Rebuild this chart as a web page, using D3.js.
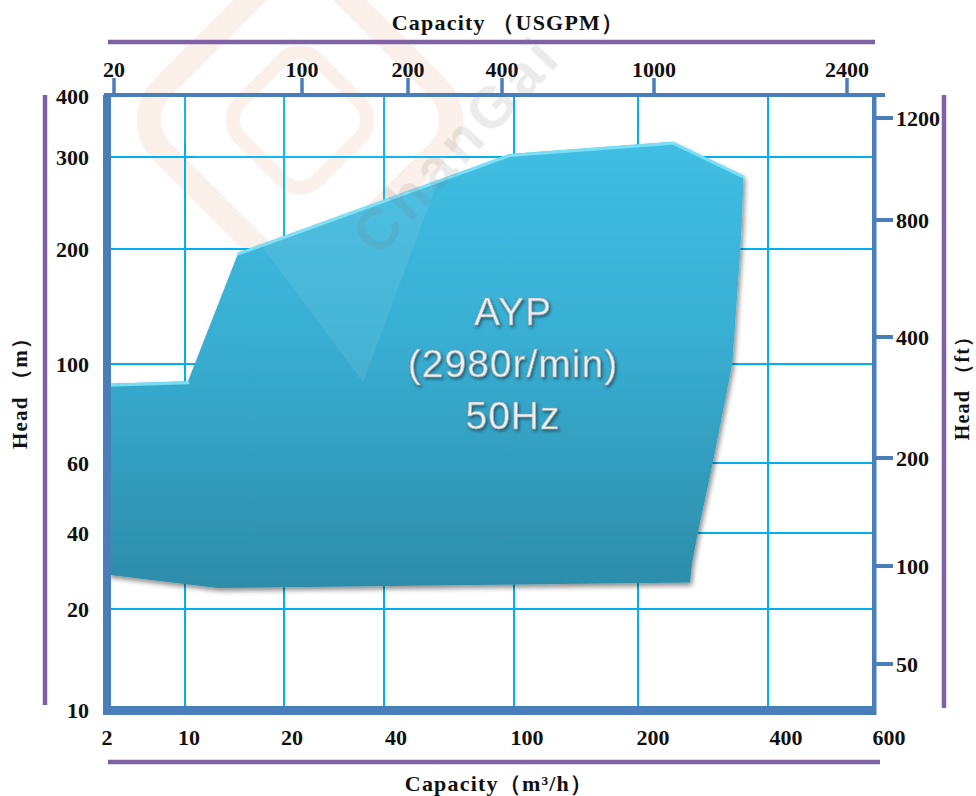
<!DOCTYPE html>
<html><head><meta charset="utf-8">
<script src="https://cdn.jsdelivr.net/npm/d3@7"></script>
<style>body{margin:0;background:#fff}svg{display:block}</style>
</head><body><svg id="c" width="976" height="796"></svg>
<script>
// ---- data ----
const bottomTicks = [2, 10, 20, 40, 100, 200, 400, 600];      // Capacity m3/h
const gridXValues = [10, 20, 40, 100, 200, 400];
const leftTicks = [10, 20, 40, 60, 100, 200, 300, 400];       // Head m
const gridYValues = [20, 40, 60, 100, 200, 300];
const topTicks = [20, 100, 200, 400, 1000, 2400];             // Capacity USGPM
const rightTicks = [50, 100, 200, 400, 800, 1200];            // Head ft
// performance range outline (Capacity m3/h, Head m)
const rangeCapacity = [2, 10.3, 15.4, 98, 254, 362, 360, 357, 345, 315, 292, 283, 280, 13.3, 2];
const rangeHead     = [92, 93, 197, 305, 325, 280, 232, 196, 100, 60, 40, 32, 27, 25.5, 29];
const rangeLabel = ["AYP", "(2980r/min)", "50Hz"];

// ---- scales (chart uses uneven, hand-spaced axes) ----
const x = d3.scaleLinear().domain(bottomTicks).range([108, 185, 284, 384, 514, 638, 768, 874]);
const xLab = d3.scaleLinear().domain(bottomTicks).range([107, 189, 292, 396, 527, 653, 786, 889]);
const y = d3.scaleLinear().domain(leftTicks).range([710, 609, 533, 463, 364, 249, 157, 96]);
const xTop = d3.scaleLinear().domain(topTicks).range([114, 302, 408, 502, 654, 847]);
const yRight = d3.scaleLinear().domain(rightTicks).range([664, 566, 458, 337, 220, 118]);

const svg = d3.select("#c");
const AXIS = "#4a7ebb", GRID = "#00b0f0", PURPLE = "#7f62a3";
const SERIF = "'Times New Roman','Liberation Serif',serif";

const defs = svg.append("defs");
const grad = defs.append("linearGradient").attr("id", "fillG")
  .attr("gradientUnits", "userSpaceOnUse").attr("x1", 0).attr("y1", 140).attr("x2", 0).attr("y2", 590);
grad.append("stop").attr("offset", 0).attr("stop-color", "#40bee3");
grad.append("stop").attr("offset", 0.45).attr("stop-color", "#38aed2");
grad.append("stop").attr("offset", 1).attr("stop-color", "#2d8ca9");
const sh = defs.append("filter").attr("id", "shadow").attr("x", "-10%").attr("y", "-10%").attr("width", "130%").attr("height", "130%");
sh.append("feDropShadow").attr("dx", 2).attr("dy", 3).attr("stdDeviation", 2.5).attr("flood-color", "#000").attr("flood-opacity", 0.45);
const ts = defs.append("filter").attr("id", "tshadow").attr("x", "-20%").attr("y", "-20%").attr("width", "140%").attr("height", "160%");
ts.append("feDropShadow").attr("dx", 1.5).attr("dy", 2).attr("stdDeviation", 1.5).attr("flood-color", "#1a3a48").attr("flood-opacity", 0.7);

// ---- faint watermark (behind) ----
const wm = svg.append("g").attr("opacity", 0.13);
wm.append("rect").attr("x", -120).attr("y", -120).attr("width", 240).attr("height", 240).attr("rx", 45)
  .attr("transform", "translate(300,120) rotate(45)")
  .attr("fill", "none").attr("stroke", "#e8915f").attr("stroke-width", 24);
wm.append("rect").attr("x", -55).attr("y", -55).attr("width", 110).attr("height", 110).attr("rx", 25)
  .attr("transform", "translate(300,120) rotate(45)")
  .attr("fill", "none").attr("stroke", "#e8915f").attr("stroke-width", 14);

// ---- grid ----
svg.append("g").selectAll("line").data(gridXValues).join("line")
  .attr("x1", d => x(d)).attr("x2", d => x(d)).attr("y1", 97).attr("y2", 707)
  .attr("stroke", GRID).attr("stroke-width", 2);
svg.append("g").selectAll("line").data(gridYValues).join("line")
  .attr("x1", 110).attr("x2", 872).attr("y1", d => y(d)).attr("y2", d => y(d))
  .attr("stroke", GRID).attr("stroke-width", 2);

// ---- performance range ----
const pts = rangeCapacity.map((q, i) => [x(q), y(rangeHead[i])]);
svg.append("path").attr("d", d3.line()(pts) + "Z")
  .attr("fill", "url(#fillG)").attr("filter", "url(#shadow)");
// highlight on top edges
const topEdges = [[0, 1], [2, 3], [3, 4], [4, 5]];
svg.append("g").selectAll("line").data(topEdges).join("line")
  .attr("x1", d => pts[d[0]][0]).attr("y1", d => pts[d[0]][1] + 1.5)
  .attr("x2", d => pts[d[1]][0]).attr("y2", d => pts[d[1]][1] + 1.5)
  .attr("stroke", "#7fe3f7").attr("stroke-width", 3).attr("stroke-linecap", "round").attr("opacity", 0.9);

// ---- watermark on top (light) ----
const wm2 = svg.append("g");
wm2.append("path").attr("d", "M150,96 L470,96 L363,382 Z").attr("fill", "#ffffff").attr("opacity", 0.08);
wm2.append("text").attr("transform", "translate(378,258) rotate(-47)")
  .attr("font-family", "Arial,'Liberation Sans',sans-serif").attr("font-size", 58).attr("font-weight", "bold")
  .attr("fill", "#7a7a7a").attr("opacity", 0.14).attr("letter-spacing", 5).text("ChanGai");

// ---- label inside region ----
svg.append("g").selectAll("text").data(rangeLabel).join("text")
  .attr("x", 513).attr("y", (d, i) => 325 + i * 52)
  .attr("text-anchor", "middle")
  .attr("font-family", "Arial,'Liberation Sans',sans-serif").attr("font-size", 39).attr("letter-spacing", 1)
  .attr("fill", "#eeeeee").attr("stroke", "#8fa4ac").attr("stroke-width", 0.6)
  .attr("filter", "url(#tshadow)").text(d => d);

// ---- frame / axes ----
svg.append("rect").attr("x", 103).attr("y", 95).attr("width", 8).attr("height", 620).attr("fill", AXIS);
svg.append("rect").attr("x", 103).attr("y", 706).attr("width", 773).attr("height", 9).attr("fill", AXIS);
svg.append("rect").attr("x", 104).attr("y", 93).attr("width", 781).attr("height", 4).attr("fill", AXIS);
svg.append("rect").attr("x", 872).attr("y", 93).attr("width", 4.5).attr("height", 622).attr("fill", AXIS);

// top ticks
svg.append("g").selectAll("line").data(topTicks).join("line")
  .attr("x1", d => xTop(d)).attr("x2", d => xTop(d)).attr("y1", 78).attr("y2", 95)
  .attr("stroke", AXIS).attr("stroke-width", 3.5);
// right ticks
svg.append("g").selectAll("line").data(rightTicks).join("line")
  .attr("x1", 876).attr("x2", 893).attr("y1", d => yRight(d)).attr("y2", d => yRight(d))
  .attr("stroke", AXIS).attr("stroke-width", 4);

const lbl = (g) => g.attr("font-family", SERIF).attr("font-weight", "bold").attr("font-size", 22).attr("fill", "#111");
lbl(svg.append("g").selectAll("text").data(topTicks).join("text")
  .attr("x", d => xTop(d)).attr("y", 69).attr("dy", "0.35em").attr("text-anchor", "middle").text(d => d));
lbl(svg.append("g").selectAll("text").data(bottomTicks).join("text")
  .attr("x", d => xLab(d)).attr("y", 737).attr("dy", "0.35em").attr("text-anchor", "middle").text(d => d));
lbl(svg.append("g").selectAll("text").data(leftTicks).join("text")
  .attr("x", 89).attr("y", d => y(d)).attr("dy", "0.35em").attr("text-anchor", "end").text(d => d));
lbl(svg.append("g").selectAll("text").data(rightTicks).join("text")
  .attr("x", 896).attr("y", d => yRight(d)).attr("dy", "0.35em").attr("text-anchor", "start").text(d => d));

// purple guide lines
const pl = [[108, 42, 875, 42], [108, 762, 880, 762], [45, 95, 45, 705], [944, 95, 944, 708]];
svg.append("g").selectAll("line").data(pl).join("line")
  .attr("x1", d => d[0]).attr("y1", d => d[1]).attr("x2", d => d[2]).attr("y2", d => d[3])
  .attr("stroke", PURPLE).attr("stroke-width", 4.5);

// titles
const title = (t, tx, ty, rot, fs) => lbl(svg.append("text")).attr("font-size", fs).attr("letter-spacing", 1.2)
  .attr("transform", `translate(${tx},${ty}) rotate(${rot})`).attr("text-anchor", "middle").attr("dy", "0.35em").text(t);
title("Capacity （USGPM）", 508, 22, 0, 22);
title("Capacity（m³/h）", 499, 783, 0, 22);
title("Head （m）", 20, 388, -90, 21);
title("Head （ft）", 962, 383, -90, 20);
</script></body></html>
